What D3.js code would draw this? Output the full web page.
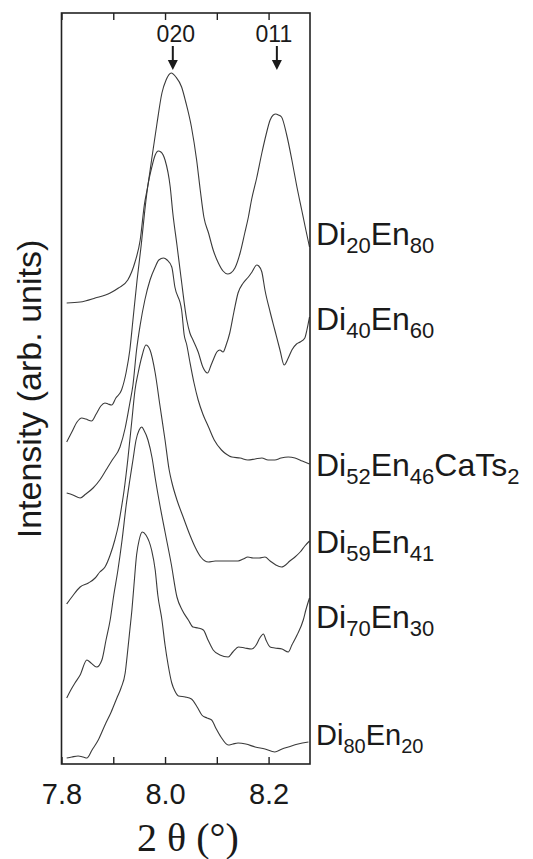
<!DOCTYPE html>
<html><head><meta charset="utf-8">
<script src="https://cdn.jsdelivr.net/npm/d3@7"></script>
<style>body{margin:0;background:#fff}svg{display:block}</style>
</head><body><svg id="c" width="533" height="859"></svg>
<script>
// ---------- data (2θ in degrees, intensity in arb. units, offset stack as plotted) ----------
const seriesNames = ["Di20En80","Di40En60","Di52En46CaTs2","Di59En41","Di70En30","Di80En20"];
const labelParts = [
  ["Di","20","En","80"],
  ["Di","40","En","60"],
  ["Di","52","En","46","CaTs","2"],
  ["Di","59","En","41"],
  ["Di","70","En","30"],
  ["Di","80","En","20"]
];
const di20en80 = [[7.810,461],[7.836,462],[7.865,466],[7.894,471],[7.910,476],[7.928,484],[7.942,502],[7.952,524],[7.960,559],[7.967,579],[7.974,604],[7.984,639],[7.994,671],[8.002,684],[8.012,691],[8.021,687],[8.032,677],[8.040,662],[8.051,637],[8.061,604],[8.068,574],[8.075,547],[8.084,531],[8.093,514],[8.103,501],[8.112,493],[8.121,490],[8.127,491],[8.135,496],[8.145,511],[8.154,531],[8.161,547],[8.167,564],[8.177,586],[8.187,611],[8.195,629],[8.203,644],[8.209,649],[8.214,650],[8.219,649],[8.225,647],[8.235,629],[8.245,604],[8.254,579],[8.264,554],[8.272,534],[8.279,517]];
const di40en60 = [[7.810,322],[7.820,332],[7.830,342],[7.839,346],[7.847,345],[7.858,343],[7.867,350],[7.876,358],[7.884,361],[7.890,360],[7.897,359],[7.905,366],[7.916,374],[7.925,392],[7.932,414],[7.938,444],[7.946,484],[7.954,519],[7.961,554],[7.967,579],[7.974,596],[7.981,609],[7.987,613],[7.992,612],[8.000,604],[8.010,577],[8.015,551],[8.023,519],[8.031,486],[8.042,444],[8.048,431],[8.054,424],[8.064,412],[8.073,397],[8.082,391],[8.089,399],[8.093,404],[8.100,412],[8.106,414],[8.112,412],[8.118,419],[8.125,431],[8.133,452],[8.141,471],[8.151,481],[8.161,487],[8.168,492],[8.177,499],[8.181,498],[8.187,492],[8.193,474],[8.203,452],[8.212,434],[8.222,414],[8.230,399],[8.238,406],[8.245,414],[8.254,420],[8.261,422],[8.270,426],[8.274,434],[8.279,447]];
const di52en46cats2 = [[7.810,271],[7.822,269],[7.836,266],[7.847,270],[7.861,276],[7.874,284],[7.886,294],[7.898,304],[7.913,317],[7.923,336],[7.932,361],[7.938,379],[7.945,414],[7.952,439],[7.961,464],[7.971,484],[7.981,497],[7.988,504],[7.997,506],[8.004,504],[8.013,497],[8.019,477],[8.032,454],[8.037,429],[8.042,419],[8.048,402],[8.056,381],[8.064,364],[8.073,350],[8.084,337],[8.095,324],[8.109,314],[8.118,310],[8.129,307],[8.145,306],[8.160,304],[8.174,305],[8.187,306],[8.199,304],[8.212,304],[8.224,306],[8.238,307],[8.251,306],[8.265,303],[8.279,300]];
const di59en41 = [[7.810,160],[7.820,167],[7.836,177],[7.852,181],[7.865,186],[7.874,192],[7.884,197],[7.894,209],[7.903,224],[7.910,239],[7.916,257],[7.921,274],[7.928,304],[7.936,344],[7.942,374],[7.948,391],[7.956,409],[7.963,419],[7.971,414],[7.981,391],[7.990,359],[8.000,324],[8.008,294],[8.013,282],[8.023,264],[8.035,247],[8.048,229],[8.058,217],[8.069,207],[8.084,202],[8.097,203],[8.116,203],[8.141,203],[8.151,205],[8.160,207],[8.170,206],[8.182,206],[8.193,207],[8.203,203],[8.214,199],[8.225,197],[8.230,198],[8.241,203],[8.251,207],[8.261,212],[8.270,218],[8.279,223]];
const di70en30 = [[7.810,66],[7.818,74],[7.826,81],[7.836,89],[7.849,104],[7.857,101],[7.868,97],[7.878,104],[7.886,124],[7.894,144],[7.901,169],[7.909,194],[7.917,224],[7.925,259],[7.932,284],[7.938,304],[7.944,324],[7.950,334],[7.955,337],[7.959,334],[7.967,324],[7.975,306],[7.981,286],[7.990,259],[8.000,232],[8.012,200],[8.023,167],[8.033,154],[8.045,144],[8.054,137],[8.064,136],[8.074,134],[8.083,124],[8.093,114],[8.106,109],[8.122,107],[8.131,112],[8.142,117],[8.154,116],[8.167,115],[8.176,119],[8.183,126],[8.190,130],[8.195,124],[8.203,117],[8.212,116],[8.226,115],[8.238,112],[8.245,119],[8.255,129],[8.267,144],[8.272,154],[8.279,166]];
const di80en20 = [[7.810,6],[7.820,7],[7.832,8],[7.842,7],[7.849,6],[7.859,14],[7.871,24],[7.884,39],[7.896,52],[7.907,66],[7.915,76],[7.923,91],[7.928,114],[7.932,134],[7.936,154],[7.940,179],[7.945,209],[7.950,224],[7.956,232],[7.963,229],[7.974,214],[7.981,194],[7.986,169],[7.994,144],[8.000,119],[8.006,99],[8.013,81],[8.019,73],[8.026,68],[8.039,67],[8.051,65],[8.062,57],[8.071,49],[8.081,46],[8.090,44],[8.098,36],[8.108,27],[8.122,19],[8.131,20],[8.141,21],[8.156,20],[8.174,17],[8.193,15],[8.212,12],[8.226,15],[8.238,17],[8.257,20],[8.277,22]];
const xTicks = [7.8, 7.9, 8.0, 8.1, 8.2];
const xTickLabels = ["7.8", "8.0", "8.2"];
const reflectionLabels = ["020", "011"];
const reflectionPos = [8.015, 8.216];

// ---------- layout ----------
const W = 533, H = 859;
const L = 61.5, R = 310, T = 13, B = 764;
const sans = "'Liberation Sans', Arial, Helvetica, sans-serif";
const serif = "'Liberation Serif', 'Times New Roman', serif";
const allSeries = [di20en80, di40en60, di52en46cats2, di59en41, di70en30, di80en20];

const x = d3.scaleLinear().domain([7.8, 8.28]).range([L, R]);
const y = d3.scaleLinear().domain([0, 751]).range([B, T]);

const svg = d3.select("#c");
svg.append("rect").attr("width", W).attr("height", H).attr("fill", "#ffffff");

svg.append("defs").append("clipPath").attr("id", "pc")
  .append("rect").attr("x", L).attr("y", T).attr("width", R - L).attr("height", B - T);

// curves
const line = d3.line().x(d => x(d[0])).y(d => y(d[1])).curve(d3.curveMonotoneX);
svg.append("g").attr("clip-path", "url(#pc)")
  .selectAll("path").data(allSeries).join("path")
  .attr("d", line).attr("fill", "none").attr("stroke", "#3a3a3a").attr("stroke-width", 1.1);

// axes (inward ticks, top and bottom)
const bottomAxis = d3.axisBottom(x).tickValues(xTicks).tickSize(-7)
  .tickFormat(d => { const s = d3.format(".1f")(d); return xTickLabels.includes(s) ? s : ""; });
const gb = svg.append("g").attr("transform", `translate(0,${B})`).call(bottomAxis);
gb.select(".domain").remove();
gb.selectAll(".tick line").attr("stroke", "#222").attr("stroke-width", 1.4);
gb.selectAll(".tick text").attr("y", 40).attr("dy", null)
  .attr("font-family", sans).attr("font-size", 29).attr("fill", "#1a1a1a");

const topAxis = d3.axisTop(x).tickValues(xTicks).tickSize(-7).tickFormat("");
const gt = svg.append("g").attr("transform", `translate(0,${T})`).call(topAxis);
gt.select(".domain").remove();
gt.selectAll(".tick line").attr("stroke", "#222").attr("stroke-width", 1.4);

// frame
svg.append("rect").attr("x", L).attr("y", T).attr("width", R - L).attr("height", B - T)
  .attr("fill", "none").attr("stroke", "#222").attr("stroke-width", 1.6);

// reflection markers
const textDx = [3, -3];
reflectionLabels.forEach((lab, i) => {
  const px = x(reflectionPos[i]);
  svg.append("text").attr("x", px + textDx[i]).attr("y", 42).attr("text-anchor", "middle")
    .attr("font-family", sans).attr("font-size", 23).attr("fill", "#1a1a1a").text(lab);
  svg.append("line").attr("x1", px).attr("x2", px).attr("y1", 46).attr("y2", 62)
    .attr("stroke", "#1a1a1a").attr("stroke-width", 2);
  svg.append("path").attr("d", `M${px - 5},60 L${px + 5},60 L${px},70 Z`).attr("fill", "#1a1a1a");
});

// series labels
const labelY = [245, 330, 476, 553, 628, 745];
const labelSize = [32, 32, 32, 32, 32, 29];
labelParts.forEach((parts, i) => {
  const t = svg.append("text").attr("x", 316).attr("y", labelY[i])
    .attr("font-family", sans).attr("fill", "#1a1a1a");
  const fs = labelSize[i], sub = Math.round(fs * 0.69), shift = Math.round(fs * 0.26);
  parts.forEach((p, j) => {
    const isSub = j % 2 === 1;
    t.append("tspan").attr("font-size", isSub ? sub : fs)
      .attr("dy", j === 0 ? 0 : (isSub ? shift : -shift)).text(p);
  });
});

// axis titles
svg.append("text").attr("transform", "translate(41,389) rotate(-90)").attr("text-anchor", "middle")
  .attr("font-family", sans).attr("font-size", 34).attr("fill", "#1a1a1a").text("Intensity (arb. units)");
svg.append("text").attr("x", 188).attr("y", 851).attr("text-anchor", "middle")
  .attr("font-family", serif).attr("font-size", 40).attr("fill", "#1a1a1a").text("2 θ (°)");
</script>
</body></html>
